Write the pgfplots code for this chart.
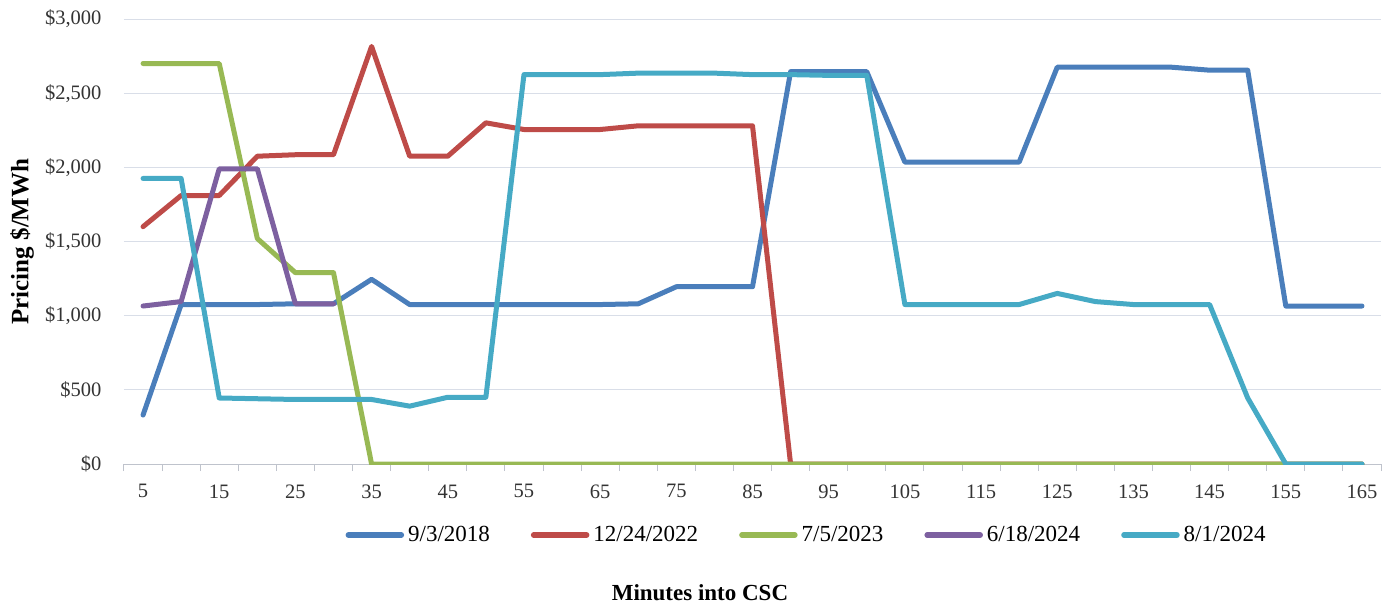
\documentclass[border=0pt]{standalone}
\usepackage{pgfplots}
\pgfplotsset{compat=1.18}
\usepackage{fontspec}
\setmainfont{Liberation Serif}
\definecolor{cBlue}{HTML}{4A7EBB}
\definecolor{cRed}{HTML}{BE4B48}
\definecolor{cGreen}{HTML}{98B954}
\definecolor{cPurple}{HTML}{7D60A0}
\definecolor{cCyan}{HTML}{46AAC5}
\definecolor{cGrid}{HTML}{D9DEE8}
\definecolor{cAxis}{HTML}{BFC3CC}
\begin{document}
\begin{tikzpicture}
\useasboundingbox (-124pt,-142pt) rectangle (1259pt,464pt);
\begin{axis}[
  scale only axis,
  width=1257pt, height=445pt,
  xmin=2.5, xmax=167.5,
  ymin=0, ymax=3000,
  axis x line*=bottom, axis y line*=left,
  y axis line style={draw=none},
  x axis line style={draw=cAxis, line width=1pt},
  xtick={5,15,...,165},
  minor xtick={2.5,7.5,...,167.5},
  major tick length=0pt,
  minor tick length=7pt,
  tick align=outside,
  minor tick style={draw=cAxis, line width=1pt},
  ytick={0,500,1000,1500,2000,2500,3000},
  yticklabels={\$0,\$500,{\$1,000},{\$1,500},{\$2,000},{\$2,500},{\$3,000}},
  ymajorgrids,
  major grid style={draw=cGrid, line width=1pt},
  /pgf/number format/assume math mode=true,
  tick label style={font=\fontsize{20.5}{24}\selectfont, text=black!80},
  xticklabel style={yshift=-17pt},
  yticklabel style={xshift=-19pt},
  ylabel={\textbf{Pricing \$/MWh}},
  every axis y label/.style={at={(axis description cs:-0.0811,0.5)}, rotate=90, anchor=center, font=\fontsize{25}{28}\selectfont},
  xlabel={\textbf{Minutes into CSC}},
  every axis x label/.style={at={(axis description cs:0.4582,-0.289)}, anchor=center, font=\fontsize{23}{26}\selectfont},
  legend columns=5,
  legend style={draw=none, at={(axis description cs:0.5426,-0.1596)}, anchor=center,
    font=\fontsize{23}{26}\selectfont, inner sep=0pt,
    nodes={inner sep=1pt},
    /tikz/every odd column/.append style={column sep=3pt},
    /tikz/every even column/.append style={column sep=40pt}},
  legend image code/.code={\draw[#1, line width=5.5pt, line cap=round] (0pt,0pt) -- (53pt,0pt);},
  every axis plot/.append style={line width=5pt, line join=round, line cap=round},
]
\addplot[cBlue] coordinates {(5,330)(10,1075)(15,1075)(20,1075)(25,1080)(30,1080)(35,1245)(40,1075)(45,1075)(50,1075)(55,1075)(60,1075)(65,1075)(70,1080)(75,1195)(80,1195)(85,1195)(90,2645)(95,2645)(100,2645)(105,2035)(110,2035)(115,2035)(120,2035)(125,2675)(130,2675)(135,2675)(140,2675)(145,2655)(150,2655)(155,1065)(160,1065)(165,1065)};
\addlegendentry{9/3/2018}
\addplot[cRed] coordinates {(5,1600)(10,1810)(15,1810)(20,2075)(25,2085)(30,2085)(35,2815)(40,2075)(45,2075)(50,2300)(55,2255)(60,2255)(65,2255)(70,2280)(75,2280)(80,2280)(85,2280)(90,0)(95,0)(100,0)(105,0)(110,0)(115,0)(120,0)(125,0)(130,0)(135,0)(140,0)(145,0)(150,0)(155,0)(160,0)(165,0)};
\addlegendentry{12/24/2022}
\addplot[cGreen] coordinates {(5,2700)(10,2700)(15,2700)(20,1520)(25,1290)(30,1290)(35,0)(40,0)(45,0)(50,0)(55,0)(60,0)(65,0)(70,0)(75,0)(80,0)(85,0)(90,0)(95,0)(100,0)(105,0)(110,0)(115,0)(120,0)(125,0)(130,0)(135,0)(140,0)(145,0)(150,0)(155,0)(160,0)(165,0)};
\addlegendentry{7/5/2023}
\addplot[cPurple] coordinates {(5,1065)(10,1095)(15,1990)(20,1990)(25,1080)(30,1080)};
\addlegendentry{6/18/2024}
\addplot[cCyan] coordinates {(5,1925)(10,1925)(15,445)(20,440)(25,435)(30,435)(35,435)(40,390)(45,450)(50,450)(55,2625)(60,2625)(65,2625)(70,2635)(75,2635)(80,2635)(85,2625)(90,2625)(95,2620)(100,2620)(105,1075)(110,1075)(115,1075)(120,1075)(125,1150)(130,1095)(135,1075)(140,1075)(145,1075)(150,445)(155,0)(160,0)(165,0)};
\addlegendentry{8/1/2024}
\end{axis}
\end{tikzpicture}
\end{document}
